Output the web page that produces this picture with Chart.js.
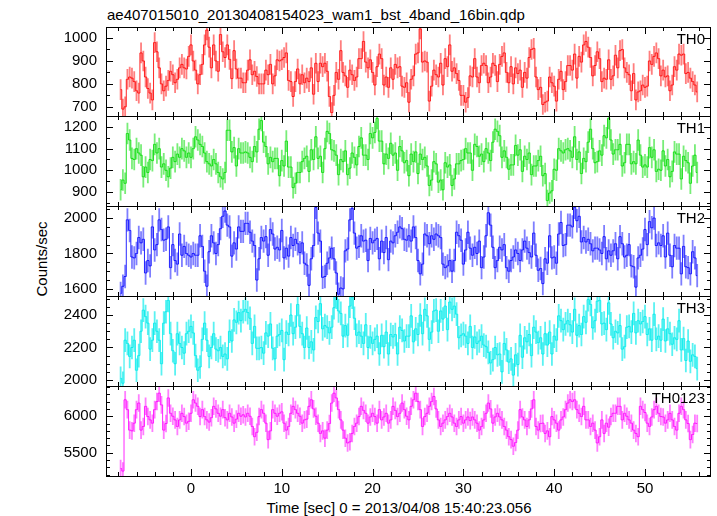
<!DOCTYPE html>
<html>
<head>
<meta charset="utf-8">
<script src="https://cdn.jsdelivr.net/npm/chart.js@4.4.0/dist/chart.umd.min.js"></script>
<style>
  body { margin: 0; background: #fff; width: 717px; height: 516px; overflow: hidden; position: relative;
         font-family: 'Liberation Sans', Arial, sans-serif; color: #000; }
  canvas { position: absolute; left: 0; }
  .txt { position: absolute; font-size: 15px; line-height: 15px; white-space: nowrap; }
  #title { left: 107px; top: 7px; }
  #ylabel { left: 41px; top: 259px; transform: translate(-50%, -50%) rotate(-90deg); }
  #xlabel { left: 399px; top: 500px; transform: translateX(-50%); }
</style>
</head>
<body>
<div id="title" class="txt">ae407015010_20130408154023_wam1_bst_4band_16bin.qdp</div>
<div id="ylabel" class="txt">Counts/sec</div>
<div id="xlabel" class="txt">Time [sec] 0 = 2013/04/08 15:40:23.056</div>
<canvas id="c0"></canvas>
<canvas id="c1"></canvas>
<canvas id="c2"></canvas>
<canvas id="c3"></canvas>
<canvas id="c4"></canvas>
<script>
// light curve bins: 0.25 s, first bin centre at -7.75 s
const tStart = -7.75;
const binWidth = 0.25;

const bandNames = ['TH0', 'TH1', 'TH2', 'TH3', 'TH0123'];

const th0 = [
  775, 690, 700, 820, 830, 825, 810, 770, 760, 935, 900, 830, 780, 760, 730, 980, 940, 870, 800, 770,
  790, 815, 855, 840, 805, 820, 870, 885, 870, 865, 920, 970, 900, 860, 800, 840, 885, 970, 1035, 960,
  870, 970, 900, 855, 1015, 940, 915, 970, 907, 823, 945, 865, 825, 825, 805, 805, 860, 905, 840, 855,
  832, 800, 800, 800, 860, 840, 885, 800, 835, 905, 900, 905, 915, 935, 815, 810, 745, 810, 865, 800,
  840, 805, 825, 810, 870, 755, 890, 810, 890, 875, 890, 855, 745, 675, 750, 850, 820, 945, 850, 835,
  785, 860, 840, 815, 830, 910, 910, 985, 895, 870, 905, 850, 795, 875, 930, 910, 795, 830, 785, 870,
  820, 885, 870, 875, 790, 785, 805, 720, 820, 835, 930, 935, 1040, 895, 900, 895, 725, 790, 860, 840,
  830, 890, 795, 910, 875, 970, 855, 870, 845, 815, 750, 750, 720, 740, 835, 830, 910, 830, 805, 880,
  890, 880, 805, 830, 890, 880, 810, 885, 920, 935, 850, 805, 875, 800, 870, 845, 860, 785, 850, 825,
  915, 950, 955, 830, 775, 785, 710, 720, 725, 830, 805, 790, 725, 820, 855, 775, 810, 880, 880, 860,
  930, 825, 920, 895, 970, 985, 960, 915, 835, 880, 940, 910, 810, 825, 820, 905, 820, 835, 925, 870,
  945, 950, 870, 850, 840, 770, 845, 730, 765, 770, 795, 785, 790, 900, 885, 920, 935, 910, 835, 860,
  830, 835, 770, 795, 875, 860, 930, 925, 930, 845, 850, 825, 810, 795, 765
];

const th1 = [
  910, 955, 940, 1170, 1140, 1055, 1050, 1100, 1080, 1070, 970, 1015, 990, 1050, 1045, 1120, 1080, 1100, 1015, 1030,
  1000, 970, 1010, 1060, 1040, 1075, 1060, 1100, 1090, 1060, 1080, 1060, 1100, 1155, 1140, 1120, 1110, 1080, 1040, 1030,
  1020, 1050, 1030, 990, 970, 960, 990, 1185, 1185, 1085, 1105, 1020, 1100, 1080, 1080, 1085, 1080, 1060, 1040, 1110,
  1085, 1190, 1230, 1130, 1110, 1030, 1060, 1040, 1055, 1055, 975, 1045, 1020, 1135, 1015, 1015, 920, 940, 990, 990,
  1040, 1055, 1065, 995, 1095, 1050, 1155, 1055, 1065, 990, 1100, 1180, 1170, 1095, 1090, 1070, 980, 1050, 1040, 1090,
  980, 1010, 1080, 1060, 1025, 1110, 1150, 1070, 1070, 1050, 1170, 1150, 1175, 1240, 1135, 1135, 1030, 1075, 1055, 1125,
  1070, 1080, 1000, 1110, 1090, 1035, 1045, 975, 1075, 1040, 1085, 985, 1075, 1050, 1060, 1020, 930, 955, 1040, 1030,
  945, 955, 910, 1035, 1015, 1025, 930, 960, 1030, 1030, 1045, 1050, 1100, 1080, 1080, 1000, 1120, 1110, 1065, 1075,
  1040, 1100, 1080, 1045, 1130, 1190, 1180, 1160, 1060, 1090, 1060, 1005, 1025, 1025, 1115, 1070, 1095, 995, 1065, 1050,
  1080, 980, 1020, 1020, 1045, 1065, 975, 985, 860, 895, 905, 1005, 1000, 1100, 1090, 1080, 1095, 1100, 1090, 1060,
  1155, 1050, 1085, 985, 1055, 1040, 1130, 1190, 1100, 1035, 1040, 1090, 1070, 1160, 1150, 1240, 1140, 1075, 1095, 1095,
  1120, 1020, 1035, 1120, 1120, 1030, 1040, 1030, 1140, 1070, 1015, 1025, 1015, 1105, 1060, 1095, 995, 1005, 1000, 1090,
  1020, 1050, 970, 995, 1085, 1075, 1075, 960, 1065, 1045, 1035, 940, 1020, 1070, 990
];

const th2 = [
  1575, 1615, 1670, 1990, 1930, 1780, 1775, 1800, 1890, 1860, 1880, 1690, 1760, 1730, 1950, 1820, 1850, 1990, 1935, 1875,
  1880, 1950, 1720, 1850, 1760, 1740, 1910, 1790, 1840, 1800, 1790, 1780, 1800, 1790, 1790, 1900, 1840, 1700, 1615, 1810,
  1900, 1860, 1800, 1850, 1940, 2010, 2040, 1960, 1950, 1785, 1860, 1825, 1950, 1925, 1925, 1970, 1970, 1920, 1870, 1845,
  1650, 1770, 1890, 1870, 1895, 1790, 1935, 1910, 1825, 1835, 1820, 1930, 1775, 1830, 1785, 1890, 1845, 1880, 1855, 1805,
  1860, 1745, 1735, 1620, 1770, 1845, 2060, 1915, 1870, 1665, 1670, 1745, 1775, 1830, 1770, 1690, 1570, 1605, 1600, 1815,
  1825, 1990, 2055, 1915, 1830, 1840, 1900, 1870, 1875, 1760, 1885, 1860, 1875, 1885, 1770, 1870, 1805, 1890, 1765, 1870,
  1860, 1900, 1920, 1950, 1940, 1880, 1875, 1900, 1870, 1950, 1890, 1760, 1685, 1740, 1910, 1900, 1855, 1900, 1880, 1910,
  1900, 1890, 1740, 1720, 1730, 1760, 1700, 1760, 1920, 1900, 1875, 1740, 1820, 1920, 1830, 1790, 1835, 1800, 1870, 1720,
  1780, 1900, 2030, 1960, 1835, 1720, 1760, 1835, 1820, 1850, 1720, 1700, 1760, 1780, 1820, 1800, 1760, 1820, 1870, 1830,
  1805, 1780, 1915, 1790, 1705, 1715, 1630, 1770, 1745, 1900, 1775, 1780, 1745, 1910, 1975, 1845, 1850, 1960, 1960, 1950,
  2060, 1985, 2010, 1865, 1890, 1865, 1880, 1855, 1815, 1830, 1830, 1820, 1800, 1895, 1770, 1815, 1790, 1815, 1855, 1770,
  1895, 1855, 1780, 1790, 1850, 1730, 1725, 1610, 1775, 1790, 1825, 1935, 1850, 1980, 1945, 2000, 1845, 1860, 1845, 1900,
  1780, 1915, 1790, 1725, 1845, 1830, 1830, 1685, 1840, 1725, 1720, 1685, 1810, 1775, 1675
];

const th3 = [
  2010, 1980, 2245, 2225, 2145, 2200, 2245, 2060, 2150, 2300, 2430, 2390, 2350, 2190, 2245, 2350, 2300, 2245, 2100, 2350,
  2420, 2490, 2285, 2180, 2100, 2285, 2225, 2200, 2165, 2285, 2300, 2330, 2290, 2150, 2060, 2080, 2250, 2350, 2245, 2145,
  2200, 2285, 2190, 2180, 2200, 2145, 2160, 2130, 2300, 2240, 2370, 2355, 2415, 2365, 2420, 2435, 2415, 2380, 2225, 2330,
  2195, 2195, 2200, 2165, 2290, 2270, 2345, 2195, 2130, 2270, 2280, 2305, 2125, 2295, 2280, 2400, 2285, 2325, 2465, 2330,
  2285, 2200, 2320, 2200, 2235, 2185, 2385, 2360, 2470, 2315, 2335, 2325, 2290, 2325, 2445, 2510, 2425, 2410, 2270, 2335,
  2275, 2455, 2510, 2380, 2275, 2295, 2270, 2225, 2340, 2200, 2265, 2225, 2250, 2270, 2160, 2275, 2205, 2295, 2160, 2280,
  2265, 2280, 2160, 2325, 2305, 2240, 2270, 2270, 2395, 2235, 2315, 2280, 2400, 2285, 2435, 2395, 2250, 2295, 2425, 2430,
  2300, 2425, 2375, 2455, 2310, 2480, 2435, 2455, 2405, 2260, 2275, 2285, 2270, 2225, 2330, 2200, 2265, 2225, 2240, 2270,
  2215, 2205, 2170, 2105, 2125, 2200, 2155, 2160, 2050, 2225, 2185, 2110, 2130, 2030, 2155, 2095, 2275, 2140, 2260, 2235,
  2280, 2150, 2325, 2295, 2230, 2260, 2160, 2285, 2215, 2295, 2160, 2270, 2245, 2395, 2365, 2310, 2345, 2365, 2340, 2295,
  2435, 2275, 2335, 2280, 2390, 2355, 2495, 2465, 2320, 2365, 2485, 2490, 2345, 2350, 2310, 2475, 2345, 2260, 2300, 2290,
  2335, 2190, 2205, 2325, 2330, 2295, 2410, 2290, 2365, 2345, 2360, 2390, 2280, 2315, 2245, 2405, 2250, 2270, 2245, 2375,
  2240, 2315, 2285, 2220, 2260, 2250, 2365, 2185, 2255, 2120, 2240, 2115, 2155, 2145, 2070
];

const th0123 = [
  5285, 5250, 6225, 6090, 5810, 5800, 5905, 6090, 6180, 5810, 5860, 6135, 5995, 5950, 5905, 6090, 6200, 6315, 6155, 5810,
  5900, 6250, 6040, 6000, 5950, 5860, 5950, 6040, 5995, 5905, 5930, 6040, 6225, 6180, 6135, 5995, 6090, 5995, 5950, 5920,
  5980, 6135, 6100, 6040, 6000, 6090, 5980, 5950, 6040, 5990, 5905, 5960, 6040, 6000, 6020, 5990, 6040, 6000, 5860, 5720,
  5780, 5995, 6090, 6040, 5905, 5680, 5800, 6090, 6040, 6000, 6040, 6060, 5905, 5810, 5860, 6040, 6135, 6090, 6040, 6000,
  5905, 5950, 5960, 6135, 6225, 6100, 6000, 5905, 5765, 5800, 5700, 5810, 5900, 6180, 6315, 6250, 6090, 5950, 5810, 5700,
  5635, 5650, 5765, 5860, 5905, 5995, 6135, 6080, 6040, 5905, 5990, 6040, 5995, 5905, 6090, 5950, 5990, 6040, 5905, 5950,
  6135, 6080, 5995, 6040, 6180, 6090, 6000, 5950, 6135, 6225, 6315, 6200, 6090, 5860, 5995, 6040, 6135, 6200, 6270, 6100,
  5950, 5860, 5905, 5950, 5995, 6040, 5990, 5905, 5860, 5950, 5995, 5905, 5950, 5990, 5940, 5990, 5950, 5905, 5810, 5860,
  5950, 6040, 6180, 6100, 5905, 5990, 6040, 5990, 5950, 5860, 5810, 5720, 5680, 5590, 5640, 5810, 6090, 5990, 5950, 5860,
  5950, 6100, 6225, 5860, 5810, 5900, 5905, 5765, 5800, 5720, 5995, 5950, 5905, 5810, 5950, 5990, 6090, 6180, 6225, 6200,
  6225, 6090, 6040, 5995, 6135, 5950, 5950, 5860, 5905, 5810, 5635, 5720, 5950, 5765, 5905, 5850, 5995, 6040, 6040, 6135,
  6135, 5950, 6040, 6000, 5950, 5905, 5810, 5765, 5720, 6135, 6090, 6050, 5905, 5860, 5990, 6090, 6135, 6040, 5995, 5990,
  5905, 5950, 6040, 5950, 5860, 5810, 6040, 6135, 6090, 5950, 5900, 5680, 5750, 5905, 5900
];

// 1-sigma error per band (counts/sec)
const bandErrors = [45, 50, 66, 73, 120];

// axis ranges and ticks
const xRange = [-9.36, 57.27];
const xMajor = 10;
const xMinor = 2;
const yRanges = [[660, 1048], [835, 1251], [1560, 2068], [1963, 2517], [5183, 6413]];
const yMajor = [100, 100, 200, 200, 500];
const yMinor = [50, 50, 50, 50, 100];

const series = [th0, th1, th2, th3, th0123];
const lineColors = ['rgba(255,0,0,0.85)', 'rgba(0,220,0,0.85)', 'rgba(0,0,255,0.85)',
                    'rgba(0,235,235,0.9)', 'rgba(255,0,255,0.85)'];
const errColors = ['rgba(255,40,40,0.6)', 'rgba(30,225,30,0.6)', 'rgba(40,40,255,0.6)',
                   'rgba(0,235,235,0.65)', 'rgba(255,40,255,0.6)'];

// page layout of the five stacked panels
const panelTops = [27, 116, 206, 296, 386];
const plotBottom = 476;

Chart.defaults.font.family = "'Liberation Sans', Arial, sans-serif";
Chart.defaults.font.size = 15;
Chart.defaults.color = '#000';

function stepTicks(min, max, step) {
    const out = [];
    for (let v = Math.ceil(min / step) * step; v <= max; v += step) out.push({ value: v });
    return out;
}

// error bars, frame, inward ticks and band label, qdp style
const qdpPlugin = {
    id: 'qdp',
    beforeDatasetsDraw(chart, args, opts) {
        const { ctx, chartArea: a, scales: { x, y } } = chart;
        const pts = chart.data.datasets[0].data;
        ctx.save();
        ctx.beginPath();
        ctx.rect(a.left, a.top, a.right - a.left, a.bottom - a.top);
        ctx.clip();
        ctx.strokeStyle = opts.errColor;
        ctx.lineWidth = 1.8;
        ctx.beginPath();
        pts.forEach(p => {
            const px = x.getPixelForValue(p.x);
            ctx.moveTo(px, y.getPixelForValue(p.y - opts.err));
            ctx.lineTo(px, y.getPixelForValue(p.y + opts.err));
        });
        ctx.stroke();
        ctx.restore();
    },
    afterDraw(chart, args, opts) {
        const { ctx, chartArea: a, scales: { x, y } } = chart;
        ctx.save();
        ctx.strokeStyle = '#000';
        ctx.lineWidth = 1;
        ctx.strokeRect(a.left + 0.5, a.top + 0.5, a.right - a.left - 1, a.bottom - a.top);
        ctx.beginPath();
        stepTicks(x.min, x.max, xMinor).forEach(({ value: t }) => {
            const px = Math.round(x.getPixelForValue(t)) + 0.5;
            const len = t % xMajor === 0 ? 7 : 4;
            ctx.moveTo(px, a.top); ctx.lineTo(px, a.top + len);
            ctx.moveTo(px, a.bottom); ctx.lineTo(px, a.bottom - len);
        });
        stepTicks(y.min, y.max, opts.minor).forEach(({ value: v }) => {
            const py = Math.round(y.getPixelForValue(v)) + 0.5;
            const len = v % opts.major === 0 ? 7 : 4;
            ctx.moveTo(a.left, py); ctx.lineTo(a.left + len, py);
            ctx.moveTo(a.right, py); ctx.lineTo(a.right - len, py);
        });
        ctx.stroke();
        ctx.font = "15px 'Liberation Sans', Arial, sans-serif";
        ctx.fillStyle = '#000';
        ctx.textAlign = 'right';
        ctx.fillText(opts.label, a.right - 6, a.top + 17);
        ctx.restore();
    }
};

function makePanel(i) {
    const last = i === series.length - 1;
    const canvas = document.getElementById('c' + i);
    const top = panelTops[i] - 8;
    const bottom = last ? 516 : panelTops[i + 1] + 8;
    canvas.width = 717;
    canvas.height = bottom - top;
    canvas.style.top = top + 'px';

    const points = series[i].map((v, k) => ({ x: tStart + k * binWidth, y: v }));

    const xScale = {
        type: 'linear',
        min: xRange[0],
        max: xRange[1],
        display: last,
        grid: { display: false, drawTicks: false },
        border: { display: false },
        afterBuildTicks: s => { s.ticks = stepTicks(s.min, s.max, xMajor); },
        ticks: { padding: 4, maxRotation: 0, autoSkip: false, callback: v => String(v) }
    };
    if (last) xScale.afterFit = s => { s.height = 516 - plotBottom; s.paddingLeft = 0; s.paddingRight = 0; };

    new Chart(canvas.getContext('2d'), {
        type: 'line',
        data: {
            datasets: [{
                data: points,
                borderColor: lineColors[i],
                borderWidth: 1,
                stepped: 'middle',
                pointRadius: 0,
                fill: false
            }]
        },
        options: {
            responsive: false,
            animation: false,
            events: [],
            layout: { padding: { top: 8, bottom: last ? 0 : 8, left: 0, right: 6 } },
            plugins: {
                legend: { display: false },
                tooltip: { enabled: false },
                qdp: {
                    label: bandNames[i],
                    err: bandErrors[i],
                    errColor: errColors[i],
                    major: yMajor[i],
                    minor: yMinor[i]
                }
            },
            scales: {
                x: xScale,
                y: {
                    type: 'linear',
                    min: yRanges[i][0],
                    max: yRanges[i][1],
                    grid: { display: false, drawTicks: false },
                    border: { display: false },
                    afterBuildTicks: s => { s.ticks = stepTicks(s.min, s.max, yMajor[i]); },
                    ticks: { padding: 9, autoSkip: false, callback: v => String(v) },
                    afterFit: s => { s.width = 106; s.paddingTop = 0; s.paddingBottom = 0; }
                }
            }
        },
        plugins: [qdpPlugin]
    });
}

for (let i = 0; i < series.length; i++) makePanel(i);
</script>
</body>
</html>
